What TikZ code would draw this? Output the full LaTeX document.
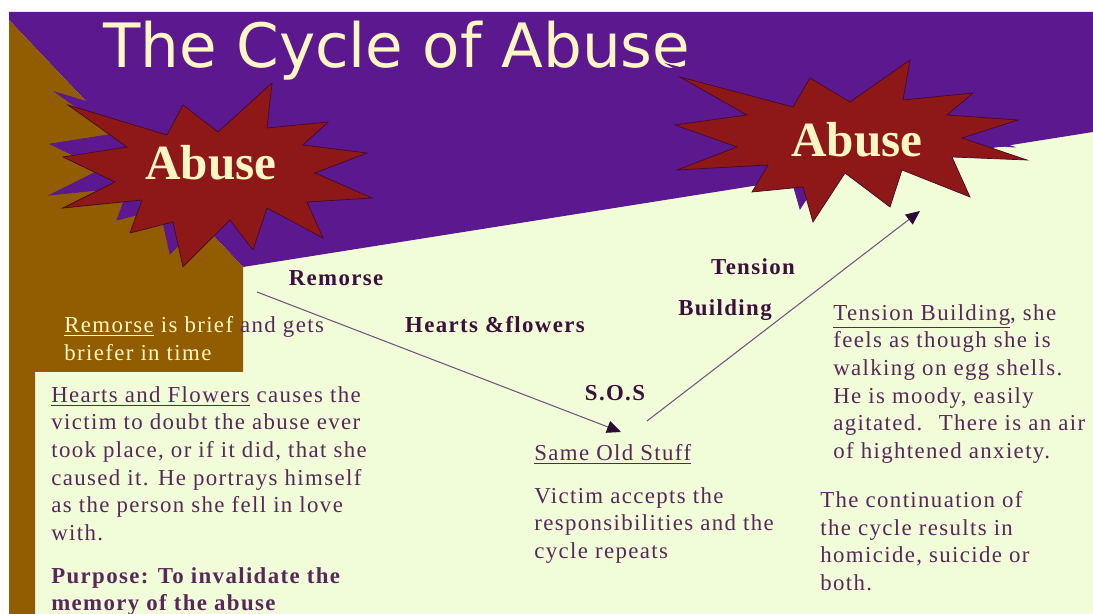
\documentclass[tikz,border=0pt]{standalone}
\usepackage{fontspec}
\usepackage{xcolor}
\usetikzlibrary{arrows.meta,positioning}
\newfontfamily\titlefont{DejaVu Sans}
\newfontfamily\bodyfont[LetterSpace=6]{Liberation Serif}
\newfontfamily\starfont{Liberation Serif}
\definecolor{bgpurple}{RGB}{92,24,142}
\definecolor{bgbrown}{RGB}{145,93,0}
\definecolor{bggreen}{RGB}{240,253,216}
\definecolor{starred}{RGB}{142,24,24}
\definecolor{stardark}{RGB}{70,10,40}
\definecolor{cream}{RGB}{255,247,195}
\definecolor{textpurple}{RGB}{88,40,90}
\definecolor{labelpurple}{RGB}{60,15,60}
\definecolor{linepurple}{RGB}{115,85,130}
\definecolor{tipdark}{RGB}{45,10,55}

\begin{document}
\begin{tikzpicture}[
    x=0.02cm, y=-0.02cm,
    body/.style={anchor=north west, inner sep=0pt, align=left, text=textpurple,
        font=\bodyfont\fontsize{13}{15.76}\selectfont},
    stagelabel/.style={inner sep=0pt, text=labelpurple,
        font=\bodyfont\bfseries\fontsize{13}{15.76}\selectfont},
    startext/.style={anchor=base, text=cream, font=\starfont\bfseries\fontsize{28}{32}\selectfont},
    arrow/.style={draw=linepurple, line width=0.6pt,
        -{Triangle[length=8pt, width=7pt, color=tipdark]}}
]
    % background
    \useasboundingbox (0,0) rectangle (1093,614);
    \fill[white] (0,0) rectangle (1093,614);
    \fill[bggreen] (9,12) rectangle (1093,614);
    \fill[bgpurple] (9,12) -- (1093,12) -- (1093,132) -- (243,267) -- (9,20) -- cycle;
    \fill[bgbrown] (9,20) -- (243,267) -- (243,372) -- (35,372) -- (35,614) -- (9,614) -- cycle;

    % title
    \node[anchor=base west, inner sep=0pt, text=cream, font=\titlefont\fontsize{34.8}{40}\selectfont]
        (title) at (103,68) {The Cycle of Abuse};

    % stars with their shadows
    \foreach \off/\fc/\dc in {-13/bgpurple/bgpurple, 0/starred/stardark}{
        \filldraw[fill=\fc, draw=\dc, line width=0.4pt, shift={(\off,\off)}]
            (272,83) -- (267,128) -- (328,122) -- (303,145) -- (367,153) -- (315,173)
            -- (372,198) -- (307,202) -- (323,238) -- (267,208) -- (253,250) -- (230,220)
            -- (183,267) -- (173,222) -- (130,233) -- (142,200) -- (63,208) -- (115,182)
            -- (63,157) -- (127,147) -- (68,105) -- (167,135) -- (183,105) -- (218,132) -- cycle;
        \filldraw[fill=\fc, draw=\dc, line width=0.4pt, shift={(\off,\off)}]
            (910,60) -- (903,100) -- (973,93) -- (947,115) -- (1018,120) -- (962,138)
            -- (1027,160) -- (952,157) -- (970,197) -- (902,170) -- (890,207) -- (845,173)
            -- (813,222) -- (803,187) -- (752,192) -- (768,165) -- (677,170) -- (737,147)
            -- (675,125) -- (747,115) -- (680,77) -- (793,107) -- (810,78) -- (850,102) -- cycle;
    }
    \node[startext] (abuseleft) at (211,180) {Abuse};
    \node[startext] (abuseright) at (857,157) {Abuse};

    % stage labels
    \node[stagelabel] (remorse) at (336,278) {Remorse};
    \node[stagelabel] (hearts) at (495,325) {Hearts \&flowers};
    \node[stagelabel] (sos) at (615,393) {S.O.S};
    \node[stagelabel] (tension) at (753,267) {Tension};
    \node[stagelabel] (building) at (725,310) {Building};

    % arrows
    \coordinate (remorsestart) at (257,292);
    \coordinate (sosend) at (621,432);
    \coordinate (sosstart) at (647,421);
    \coordinate (abuseend) at (920,211);
    \draw[arrow] (remorsestart) -- (sosend);
    \draw[arrow] (sosstart) -- (abuseend);

    % descriptions
    \node[body] (remorsetext) at (64,316)
        {\textcolor{cream}{\underline{Remorse} is brief} and gets\\
         \textcolor{cream}{briefer in time}};
    \node[body] (heartstext) at (51,386)
        {\underline{Hearts and Flowers} causes the\\
         victim to doubt the abuse ever\\
         took place, or if it did, that she\\
         caused it. He portrays himself\\
         as the person she fell in love\\
         with.};
    \node[body, font=\bodyfont\bfseries\fontsize{13}{15.76}\selectfont] (purpose) at (51,567)
        {Purpose: To invalidate the\\ memory of the abuse};
    \node[body] (sostitle) at (534,444) {\underline{Same Old Stuff}};
    \node[body] (sostext) at (534,487)
        {Victim accepts the\\ responsibilities and the\\ cycle repeats};
    \node[body] (tensiontext) at (833,304)
        {\underline{Tension Building}, she\\
         feels as though she is\\
         walking on egg shells.\\
         He is moody, easily\\
         agitated.~ There is an air\\
         of hightened anxiety.};
    \node[body] (continuation) at (820,491)
        {The continuation of\\ the cycle results in\\ homicide, suicide or\\ both.};
\end{tikzpicture}
\end{document}
